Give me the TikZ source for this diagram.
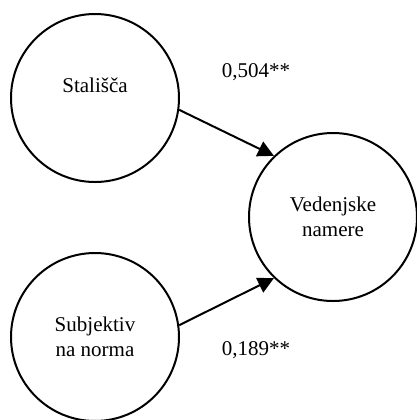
\documentclass[tikz,border=0pt]{standalone}
\usepackage{fontspec}
\setmainfont{Liberation Serif}
\usetikzlibrary{arrows.meta}
\begin{document}
\begin{tikzpicture}[x=0.5pt,y=-0.5pt,>={Triangle[length=8pt,width=8pt]},
        var/.style={draw,circle,line width=1pt,minimum size=84pt,inner sep=0pt,align=center,
            font=\fontsize{10.5}{12.5}\selectfont},
        coef/.style={font=\fontsize{10.5}{12.5}\selectfont}]
        \useasboundingbox (0,0) rectangle (417,420);
        %variables
        \node[var] (stal) at (95,98) {Stališča\\ \mbox{}};
        \node[var] (subj) at (95,337) {Subjektiv\\na norma};
        \node[var] (ved) at (333,217) {Vedenjske\\namere};
        %paths
        \draw[->,line width=1pt] (stal.-8) -- (ved.134);
        \draw[->,line width=1pt] (subj.8) -- (ved.226);
        \node[coef] (c1) at (256,72) {0,504**};
        \node[coef] (c2) at (256,350) {0,189**};
    \end{tikzpicture}
\end{document}
